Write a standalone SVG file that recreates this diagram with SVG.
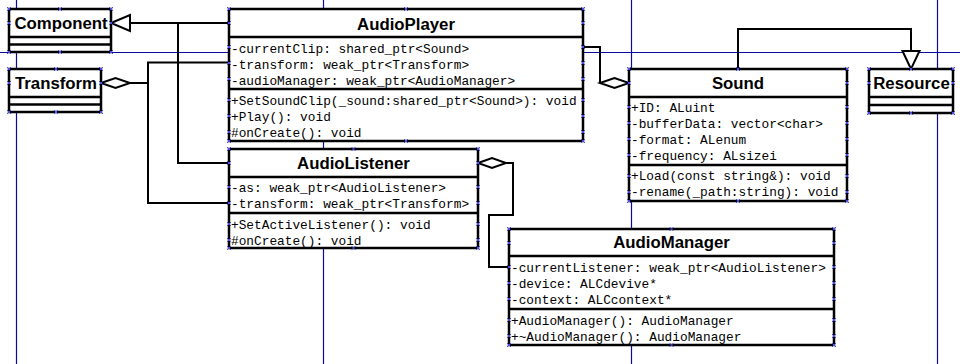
<svg xmlns="http://www.w3.org/2000/svg" xmlns:xlink="http://www.w3.org/1999/xlink" width="960" height="364" viewBox="0 0 960 364">
  <style>
    .guide { stroke: #0a0aa0; stroke-width: 1.2; fill: none; }
    .box { fill: #ffffff; stroke: #000000; stroke-width: 2.5; }
    .sep { stroke: #000000; stroke-width: 2.5; }
    .title { font-family: "Liberation Sans", Arial, sans-serif; font-weight: bold; font-size: 16.8px; fill: #000000; text-anchor: middle; }
    .mem { font-family: "Liberation Mono", "Courier New", monospace; font-size: 12.8px; fill: #000000; }
    .edge { stroke: #000000; stroke-width: 2; fill: none; }
    .head { stroke: #000000; stroke-width: 2; fill: #ffffff; }
    .hx { stroke: #4a4ae6; stroke-width: 1; fill: none; }
  </style>
  <defs>
    <path id="hx" class="hx" d="M-2,-2 L2,2 M-2,2 L2,-2"/>
  </defs>

  <rect x="0" y="0" width="960" height="364" fill="#ffffff"/>

  <!-- layout guides -->
  <g id="guides">
    <line class="guide" x1="0" y1="52.5" x2="960" y2="52.5"/>
    <line class="guide" x1="16.5" y1="0" x2="16.5" y2="364"/>
    <line class="guide" x1="323.5" y1="0" x2="323.5" y2="364"/>
    <line class="guide" x1="631.5" y1="0" x2="631.5" y2="364"/>
    <line class="guide" x1="937.5" y1="0" x2="937.5" y2="364"/>
  </g>

  <!-- connectors -->
  <g id="connectors">
    <!-- AudioPlayer / AudioListener generalise Component -->
    <polyline class="edge" points="229,23 130,23"/>
    <polyline class="edge" points="229,163 178,163 178,23"/>
    <polygon class="head" points="111,23 130,15 130,31"/>
    <!-- Transform aggregation -->
    <polyline class="edge" points="130,83 148,83"/>
    <polyline class="edge" points="229,62.5 148,62.5 148,203 229,203"/>
    <polygon class="head" points="101,83 115.5,78 130,83 115.5,88"/>
    <!-- AudioPlayer to Sound -->
    <polyline class="edge" points="583,47 600,47 600,83"/>
    <polygon class="head" points="600,83 614.5,78 629,83 614.5,88"/>
    <!-- Sound generalises Resource -->
    <polyline class="edge" points="738,69 738,29 911,29 911,51"/>
    <polygon class="head" points="911,69 902.5,51 919.5,51"/>
    <!-- AudioListener to AudioManager -->
    <polyline class="edge" points="506,163 513,163 513,215 489,215 489,267 509,267"/>
    <polygon class="head" points="478,163 492,158 506,163 492,168"/>
  </g>

  <!-- Component -->
  <g id="component">
    <rect class="box" x="9" y="9" width="102" height="43"/>
    <line class="sep" x1="9" y1="37" x2="111" y2="37"/>
    <line class="sep" x1="9" y1="44.5" x2="111" y2="44.5"/>
    <text class="title" x="61" y="29">Component</text>
  </g>

  <!-- Transform -->
  <g id="transform">
    <rect class="box" x="9" y="69" width="92" height="43"/>
    <line class="sep" x1="9" y1="97" x2="101" y2="97"/>
    <line class="sep" x1="9" y1="104.5" x2="101" y2="104.5"/>
    <text class="title" x="56" y="89">Transform</text>
  </g>

  <!-- Resource -->
  <g id="resource">
    <rect class="box" x="869" y="69" width="84" height="44"/>
    <line class="sep" x1="869" y1="97" x2="953" y2="97"/>
    <line class="sep" x1="869" y1="105" x2="953" y2="105"/>
    <text class="title" x="911.5" y="89">Resource</text>
  </g>

  <!-- AudioPlayer -->
  <g id="audioplayer">
    <rect class="box" x="229" y="9" width="354" height="132"/>
    <line class="sep" x1="229" y1="37" x2="583" y2="37"/>
    <line class="sep" x1="229" y1="89" x2="583" y2="89"/>
    <text class="title" x="406" y="29.5">AudioPlayer</text>
    <text class="mem" x="231" y="52.5">-currentClip: shared_ptr&lt;Sound&gt;</text>
    <text class="mem" x="231" y="68.5">-transform: weak_ptr&lt;Transform&gt;</text>
    <text class="mem" x="231" y="84.5">-audioManager: weak_ptr&lt;AudioManager&gt;</text>
    <text class="mem" x="231" y="104.5">+SetSoundClip(_sound:shared_ptr&lt;Sound&gt;): void</text>
    <text class="mem" x="231" y="120.5">+Play(): void</text>
    <text class="mem" x="231" y="136.5">#onCreate(): void</text>
  </g>

  <!-- Sound -->
  <g id="sound">
    <rect class="box" x="629" y="69" width="218" height="132"/>
    <line class="sep" x1="629" y1="97" x2="847" y2="97"/>
    <line class="sep" x1="629" y1="165" x2="847" y2="165"/>
    <text class="title" x="738" y="89">Sound</text>
    <text class="mem" x="631" y="112">+ID: ALuint</text>
    <text class="mem" x="631" y="128">-bufferData: vector&lt;char&gt;</text>
    <text class="mem" x="631" y="144">-format: ALenum</text>
    <text class="mem" x="631" y="160">-frequency: ALsizei</text>
    <text class="mem" x="631" y="180">+Load(const string&amp;): void</text>
    <text class="mem" x="631" y="196">-rename(_path:string): void</text>
  </g>

  <!-- AudioListener -->
  <g id="audiolistener">
    <rect class="box" x="229" y="149" width="249" height="99"/>
    <line class="sep" x1="229" y1="177" x2="478" y2="177"/>
    <line class="sep" x1="229" y1="213" x2="478" y2="213"/>
    <text class="title" x="353.5" y="169">AudioListener</text>
    <text class="mem" x="231" y="192">-as: weak_ptr&lt;AudioListener&gt;</text>
    <text class="mem" x="231" y="208">-transform: weak_ptr&lt;Transform&gt;</text>
    <text class="mem" x="231" y="228.5">+SetActiveListener(): void</text>
    <text class="mem" x="231" y="244.5">#onCreate(): void</text>
  </g>

  <!-- AudioManager -->
  <g id="audiomanager">
    <rect class="box" x="509" y="229" width="325" height="116"/>
    <line class="sep" x1="509" y1="256" x2="834" y2="256"/>
    <line class="sep" x1="509" y1="309" x2="834" y2="309"/>
    <text class="title" x="671.5" y="248">AudioManager</text>
    <text class="mem" x="511" y="271.5">-currentListener: weak_ptr&lt;AudioListener&gt;</text>
    <text class="mem" x="511" y="287.5">-device: ALCdevive*</text>
    <text class="mem" x="511" y="303.5">-context: ALCcontext*</text>
    <text class="mem" x="511" y="324.5">+AudioManager(): AudioManager</text>
    <text class="mem" x="511" y="340.5">+~AudioManager(): AudioManager</text>
  </g>

  <!-- selection handles -->
  <g id="handles">
    <!-- Component -->
    <use href="#hx" x="9" y="9"/><use href="#hx" x="60" y="9"/><use href="#hx" x="111" y="9"/>
    <use href="#hx" x="9" y="23"/><use href="#hx" x="111" y="23"/>
    <use href="#hx" x="9" y="52"/><use href="#hx" x="60" y="52"/><use href="#hx" x="111" y="52"/>
    <!-- Transform -->
    <use href="#hx" x="9" y="69"/><use href="#hx" x="56" y="69"/><use href="#hx" x="101" y="69"/>
    <use href="#hx" x="9" y="83"/><use href="#hx" x="101" y="83"/>
    <use href="#hx" x="9" y="112"/><use href="#hx" x="56" y="112"/><use href="#hx" x="101" y="112"/>
    <!-- Resource -->
    <use href="#hx" x="869" y="69"/><use href="#hx" x="911" y="69"/><use href="#hx" x="953" y="69"/>
    <use href="#hx" x="869" y="83"/><use href="#hx" x="953" y="83"/>
    <use href="#hx" x="869" y="113"/><use href="#hx" x="911" y="113"/><use href="#hx" x="953" y="113"/>
    <!-- AudioPlayer -->
    <use href="#hx" x="229" y="9"/><use href="#hx" x="406" y="9"/><use href="#hx" x="583" y="9"/>
    <use href="#hx" x="229" y="23"/><use href="#hx" x="583" y="23"/>
    <use href="#hx" x="229" y="47"/><use href="#hx" x="583" y="47"/>
    <use href="#hx" x="229" y="63"/><use href="#hx" x="583" y="63"/>
    <use href="#hx" x="229" y="79"/><use href="#hx" x="583" y="79"/>
    <use href="#hx" x="229" y="100"/><use href="#hx" x="583" y="100"/>
    <use href="#hx" x="229" y="116"/><use href="#hx" x="583" y="116"/>
    <use href="#hx" x="229" y="132"/><use href="#hx" x="583" y="132"/>
    <use href="#hx" x="229" y="141"/><use href="#hx" x="406" y="141"/><use href="#hx" x="583" y="141"/>
    <!-- Sound -->
    <use href="#hx" x="629" y="69"/><use href="#hx" x="738" y="69"/><use href="#hx" x="847" y="69"/>
    <use href="#hx" x="629" y="83"/><use href="#hx" x="847" y="83"/>
    <use href="#hx" x="629" y="107"/><use href="#hx" x="847" y="107"/>
    <use href="#hx" x="629" y="123"/><use href="#hx" x="847" y="123"/>
    <use href="#hx" x="629" y="139"/><use href="#hx" x="847" y="139"/>
    <use href="#hx" x="629" y="155"/><use href="#hx" x="847" y="155"/>
    <use href="#hx" x="629" y="176"/><use href="#hx" x="847" y="176"/>
    <use href="#hx" x="629" y="192"/><use href="#hx" x="847" y="192"/>
    <use href="#hx" x="629" y="201"/><use href="#hx" x="738" y="201"/><use href="#hx" x="847" y="201"/>
    <!-- AudioListener -->
    <use href="#hx" x="229" y="149"/><use href="#hx" x="353.5" y="149"/><use href="#hx" x="478" y="149"/>
    <use href="#hx" x="229" y="163"/><use href="#hx" x="478" y="163"/>
    <use href="#hx" x="229" y="187"/><use href="#hx" x="478" y="187"/>
    <use href="#hx" x="229" y="203"/><use href="#hx" x="478" y="203"/>
    <use href="#hx" x="229" y="224"/><use href="#hx" x="478" y="224"/>
    <use href="#hx" x="229" y="240"/><use href="#hx" x="478" y="240"/>
    <use href="#hx" x="229" y="248"/><use href="#hx" x="353.5" y="248"/><use href="#hx" x="478" y="248"/>
    <!-- AudioManager -->
    <use href="#hx" x="509" y="229"/><use href="#hx" x="671.5" y="229"/><use href="#hx" x="834" y="229"/>
    <use href="#hx" x="509" y="243"/><use href="#hx" x="834" y="243"/>
    <use href="#hx" x="509" y="267"/><use href="#hx" x="834" y="267"/>
    <use href="#hx" x="509" y="283"/><use href="#hx" x="834" y="283"/>
    <use href="#hx" x="509" y="299"/><use href="#hx" x="834" y="299"/>
    <use href="#hx" x="509" y="320"/><use href="#hx" x="834" y="320"/>
    <use href="#hx" x="509" y="336"/><use href="#hx" x="834" y="336"/>
    <use href="#hx" x="509" y="345"/><use href="#hx" x="671.5" y="345"/><use href="#hx" x="834" y="345"/>
  </g>
</svg>
